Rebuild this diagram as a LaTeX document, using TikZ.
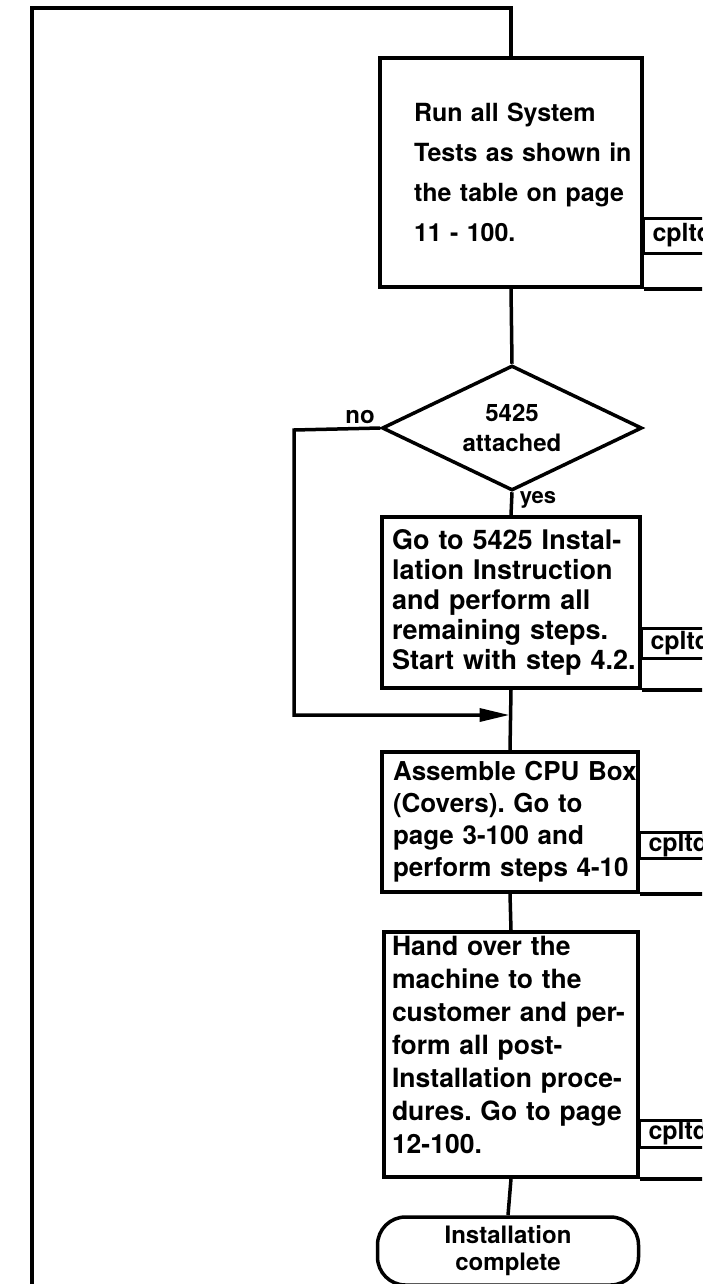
\documentclass[tikz,border=0pt]{standalone}
\usepackage{fontspec}
\setmainfont{TeX Gyre Heros}
\usetikzlibrary{shapes.geometric,arrows.meta}
\frenchspacing
\begin{document}
\begin{tikzpicture}[x=1pt,y=-1pt,line width=3.5pt,line join=miter,
  box/.style={draw,rectangle,line width=3.5pt,inner sep=0pt,align=left},
  decision/.style={draw,diamond,aspect=2.08,line width=3.5pt,inner sep=0pt,align=center,font=\bfseries\fontsize{24}{30}\selectfont},
  terminal/.style={draw,rectangle,rounded corners=28pt,line width=3.5pt,inner sep=0pt,align=center,font=\bfseries\fontsize{24}{27}\selectfont},
  lbl/.style={inner sep=0pt,font=\bfseries\fontsize{24}{24}\selectfont},
  cpl/.style={draw,rectangle,line width=3pt,anchor=west,inner xsep=9pt,inner ysep=0pt,text width=100pt,align=left,font=\bfseries\fontsize{25}{25}\selectfont},
  flow/.style={line width=3.5pt},
  arr/.style={flow,-{Triangle[length=30pt,width=13pt]}}]
\useasboundingbox (0,0) rectangle (702,1284);
\clip (0,0) rectangle (702,1284);
% boxes
\node[box,minimum width=262pt,minimum height=229pt,text width=194pt,font=\bfseries\fontsize{25}{40}\selectfont] (b1) at (511,172.5)
  {\mbox{Run all System}\\\mbox{Tests as shown in}\\\mbox{the table on page}\\\mbox{11 - 100.}};
\node[decision,minimum width=260pt,minimum height=125pt] (d) at (512,428) {5425\\attached};
\node[lbl] (no) at (360,417) {no};
\node[lbl,font=\bfseries\fontsize{22}{22}\selectfont] (yes) at (538,500) {yes};
\node[box,minimum width=258pt,minimum height=171pt,text width=238pt,font=\bfseries\fontsize{27}{30}\selectfont] (b2) at (511,602.5)
  {\mbox{Go to 5425 Instal-}\\\mbox{lation Instruction}\\\mbox{and perform all}\\\mbox{remaining steps.}\\\mbox{Start with step 4.2.}};
\node[box,minimum width=256pt,minimum height=140pt,text width=234pt,font=\bfseries\fontsize{26}{32}\selectfont] (b3) at (510,822)
  {\mbox{Assemble CPU Box}\\\mbox{(Covers). Go to}\\\mbox{page 3-100 and}\\\mbox{perform steps 4-10}};
\node[box,minimum width=254pt,minimum height=245pt,text width=238pt,font=\bfseries\fontsize{26.5}{33}\selectfont] (b4) at (511,1054.5)
  {\mbox{Hand over the}\\\mbox{machine to the}\\\mbox{customer and per-}\\\mbox{form all post-}\\\mbox{Installation proce-}\\\mbox{dures. Go to page}\\\mbox{12-100.}\rule[-19pt]{0pt}{19pt}};
\node[terminal,minimum width=261pt,minimum height=68pt] (t) at (508,1251) {Installation\\complete};
% cpltd tags (cut off by the page edge, as in the source)
\node[cpl,minimum height=35pt] (c1) at (642,235.5) {cpltd};
\node[cpl,minimum height=30pt] (c2) at (640,643) {cpltd};
\node[cpl,minimum height=26pt] (c3) at (638,845) {cpltd};
\node[cpl,minimum height=27pt] (c4) at (638,1133.5) {cpltd};
\draw[flow] (b1.south east) -- ++(80,0);
\draw[flow] (b2.south east) -- ++(80,0);
\draw[flow] (b3.south east) -- ++(80,0);
\draw[flow] (b4.south east) -- ++(80,0);
% connectors
\coordinate (lb) at (32,1300);
\coordinate (tl) at (32,8);
\coordinate (nl) at (294,430);
\coordinate (merge) at (509.5,715);
\draw[flow] (lb) -- (tl) -| (b1.north);
\draw[flow] (b1.south) -- (d.north);
\draw[flow] (d.south) -- (b2.north);
\draw[arr] (d.west) -- (nl) |- (merge);
\draw[flow] (b2.south) -- (b3.north);
\draw[flow] (b3.south) -- (b4.north);
\draw[flow] (b4.south) -- (t.north);
\end{tikzpicture}
\end{document}
